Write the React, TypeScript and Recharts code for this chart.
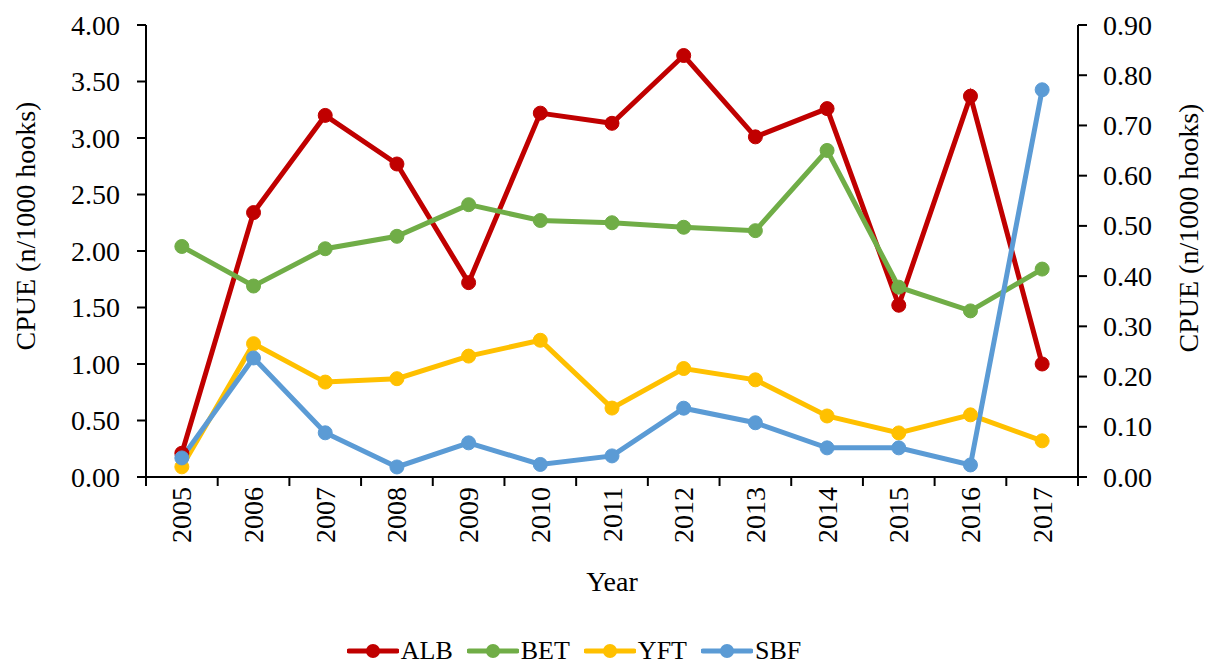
import React from 'react';
import { LineChart, Line, XAxis, YAxis, Legend, Label } from 'recharts';

const years = ['2005','2006','2007','2008','2009','2010','2011','2012','2013','2014','2015','2016','2017'];
const alb = [0.21, 2.34, 3.20, 2.77, 1.72, 3.22, 3.13, 3.73, 3.01, 3.26, 1.52, 3.37, 1.00];
const bet = [2.04, 1.69, 2.02, 2.13, 2.41, 2.27, 2.25, 2.21, 2.18, 2.89, 1.68, 1.47, 1.84];
const yft = [0.09, 1.18, 0.84, 0.87, 1.07, 1.21, 0.61, 0.96, 0.86, 0.54, 0.39, 0.55, 0.32];
const sbf = [0.038, 0.237, 0.088, 0.020, 0.068, 0.025, 0.042, 0.137, 0.108, 0.058, 0.058, 0.024, 0.771];
const leftTicks = [0, 0.5, 1, 1.5, 2, 2.5, 3, 3.5, 4];
const rightTicks = [0, 0.1, 0.2, 0.3, 0.4, 0.5, 0.6, 0.7, 0.8, 0.9];

const series = [
  { key: 'ALB', color: '#C00000', axis: 'left' },
  { key: 'BET', color: '#70AD47', axis: 'left' },
  { key: 'YFT', color: '#FFC000', axis: 'left' },
  { key: 'SBF', color: '#5B9BD5', axis: 'right' },
];

const data = years.map((y, i) => ({ year: y, ALB: alb[i], BET: bet[i], YFT: yft[i], SBF: sbf[i] }));

const FONT = '"Liberation Serif", "Times New Roman", serif';
const W = 1206;
const H = 666;
const LEFT_W = 146;
const RIGHT_W = 128;
const BW = (W - LEFT_W - RIGHT_W) / years.length;
const txtStyle: React.CSSProperties = { fontFamily: FONT, fontSize: 28, fill: '#000' };

const XTick = (props: any) => {
  const { x, y, payload, index } = props;
  const last = index === years.length - 1;
  return (
    <g>
      <line x1={x - BW / 2} x2={x - BW / 2} y1={y} y2={y + 9} stroke="#000" strokeWidth={2} />
      {last && <line x1={x + BW / 2} x2={x + BW / 2} y1={y} y2={y + 9} stroke="#000" strokeWidth={2} />}
      <text
        transform={`translate(${x},${y + 10}) rotate(-90)`}
        textAnchor="end"
        dominantBaseline="central"
        style={txtStyle}
      >
        {payload.value}
      </text>
    </g>
  );
};

const YTick = (props: any) => {
  const { x, y, payload, textAnchor } = props;
  return (
    <text x={x} y={y} textAnchor={textAnchor} dominantBaseline="central" style={txtStyle}>
      {Number(payload.value).toFixed(2)}
    </text>
  );
};

const LegendContent = () => (
  <div style={{ height: 30, display: 'flex', justifyContent: 'center', alignItems: 'center', paddingRight: 58, fontFamily: FONT, fontSize: 26, color: '#000' }}>
    {series.map((s) => (
      <div key={s.key} style={{ display: 'flex', alignItems: 'center', margin: '0 7px' }}>
        <svg width={52} height={18} style={{ marginRight: 2 }}>
          <line x1={2} x2={50} y1={9} y2={9} stroke={s.color} strokeWidth={5} strokeLinecap="round" />
          <circle cx={26} cy={9} r={7} fill={s.color} />
        </svg>
        <span style={{ lineHeight: '30px', fontFamily: FONT }}>{s.key}</span>
      </div>
    ))}
  </div>
);

const yTitle = (cx: number, cy: number, angle: number) => (
  <text
    transform={`translate(${cx},${cy}) rotate(${angle})`}
    textAnchor="middle"
    dominantBaseline="central"
    style={txtStyle}
  >
    CPUE (n/1000 hooks)
  </text>
);

export default function App() {
  return (
    <div style={{ position: 'absolute', left: 0, top: 0, width: W, height: H, background: '#fff' }}>
      <LineChart width={W} height={H} data={data} margin={{ top: 25, right: 0, bottom: 0, left: 0 }}>
        <XAxis
          dataKey="year"
          height={159}
          tickSize={0}
          tickMargin={0}
          tickLine={false}
          padding={{ left: BW / 2, right: BW / 2 }}
          axisLine={{ stroke: '#000', strokeWidth: 2 }}
          tick={<XTick />}
          interval={0}
        >
          <Label value="Year" position="insideBottom" offset={45} style={txtStyle} />
        </XAxis>
        <YAxis
          yAxisId="left"
          width={LEFT_W}
          domain={[0, 4]}
          ticks={leftTicks}
          tickSize={9}
          tickMargin={17}
          axisLine={{ stroke: '#000', strokeWidth: 2 }}
          tickLine={{ stroke: '#000', strokeWidth: 2 }}
          tick={<YTick />}
          interval={0}
        >
          <Label content={(p: any) => yTitle(p.viewBox.x + 25, p.viewBox.y + p.viewBox.height / 2 - 25, -90)} />
        </YAxis>
        <YAxis
          yAxisId="right"
          orientation="right"
          width={RIGHT_W}
          domain={[0, 0.9]}
          ticks={rightTicks}
          tickSize={9}
          tickMargin={16}
          axisLine={{ stroke: '#000', strokeWidth: 2 }}
          tickLine={{ stroke: '#000', strokeWidth: 2 }}
          tick={<YTick />}
          interval={0}
        >
          <Label content={(p: any) => yTitle(p.viewBox.x + 110, p.viewBox.y + p.viewBox.height / 2 - 23, -90)} />
        </YAxis>
        <Legend verticalAlign="bottom" content={<LegendContent />} />
        {series.map((s) => (
          <Line
            key={s.key}
            yAxisId={s.axis}
            type="linear"
            dataKey={s.key}
            stroke={s.color}
            strokeWidth={5}
            dot={{ r: 7, fill: s.color, stroke: s.color, strokeWidth: 1 }}
            activeDot={false}
            isAnimationActive={false}
          />
        ))}
      </LineChart>
    </div>
  );
}
